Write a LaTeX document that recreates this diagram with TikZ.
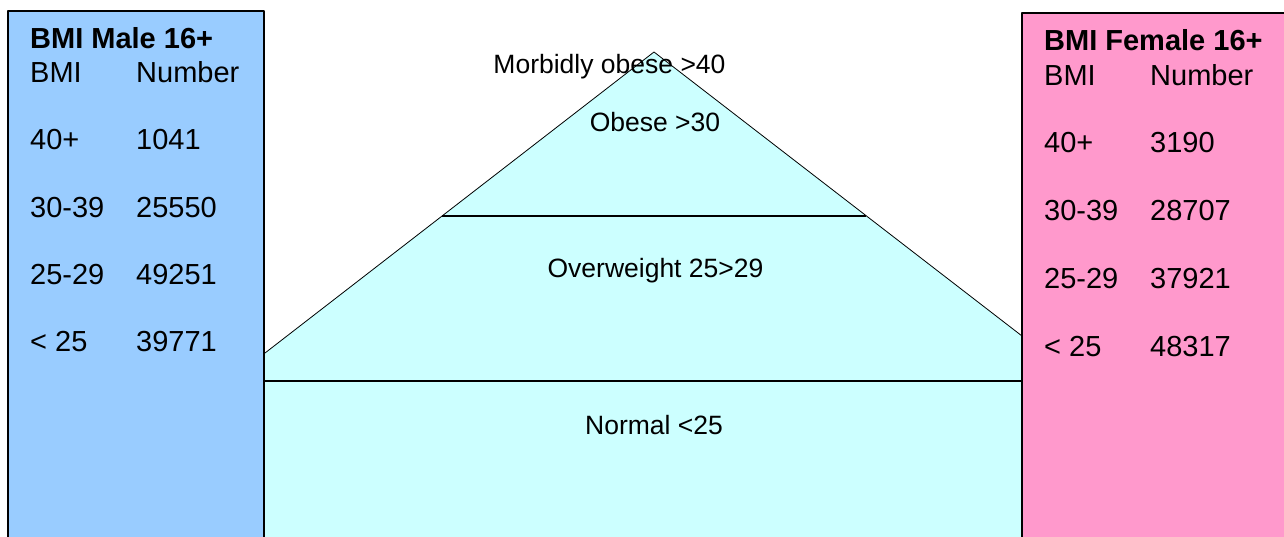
\documentclass[tikz,border=0pt]{standalone}
\usepackage{fontspec}
\setmainfont{Liberation Sans}
\usetikzlibrary{positioning}
\definecolor{maleblue}{HTML}{99CCFF}
\definecolor{femalepink}{HTML}{FF99CC}
\definecolor{pyrcyan}{HTML}{CCFFFF}

\begin{document}
\begin{tikzpicture}[x=1pt,y=-1pt,line join=round,
  boxtext/.style={anchor=base west,inner sep=0pt,font=\fontsize{29}{34}\selectfont},
  boxtitle/.style={boxtext,font=\fontsize{29}{34}\selectfont\bfseries},
  pyrtext/.style={anchor=base,inner sep=0pt,font=\fontsize{26.5}{32}\selectfont}]
  \useasboundingbox (0,0) rectangle (1284,537);
  \clip (0,0) rectangle (1284,537);
  % pyramid: apex, sides meeting the two boxes, band edges
  \coordinate (apex) at (654,52);
  \coordinate (L) at (265,353);
  \coordinate (R) at (1022,336);
  \coordinate (LB) at (265,560);
  \coordinate (RB) at (1022,560);
  \coordinate (obL) at (442,216);
  \coordinate (obR) at (866,216);
  \coordinate (nmL) at (265,381);
  \coordinate (nmR) at (1022,381);
  \fill[pyrcyan] (L)--(apex)--(R)--(RB)--(LB)--cycle;
  \draw[line width=0.8pt] (L)--(apex)--(R);
  \draw[line width=1.2pt] (obL)--(obR);
  \draw[line width=1.2pt] (nmL)--(nmR);
  % the two tables
  \filldraw[fill=maleblue,line width=1.5pt] (8,560)--(8,11)--(264,11)--(264,560);
  \filldraw[fill=femalepink,line width=1.5pt] (1022,560)--(1022,13)--(1300,13)--(1300,560);
  \node[boxtitle] (mtitle) at (30,49) {BMI Male 16+};
  \node[boxtext] (mhead) at (30,83) {BMI};
  \node[boxtext] (mnum) at (136,83) {Number};
  \foreach \bmi/\cnt [count=\i] in {40+/1041,30-39/25550,25-29/49251,< 25/39771}{
    \node[boxtext] (mb\i) at (30,{150+67.3*(\i-1)}) {\bmi};
    \node[boxtext] (mn\i) at (136,{150+67.3*(\i-1)}) {\cnt};
  }
  \node[boxtitle] (ftitle) at (1044,51) {BMI Female 16+};
  \node[boxtext] (fhead) at (1044,86) {BMI};
  \node[boxtext] (fnum) at (1150,86) {Number};
  \foreach \bmi/\cnt [count=\i] in {40+/3190,30-39/28707,25-29/37921,< 25/48317}{
    \node[boxtext] (fb\i) at (1044,{153+67.7*(\i-1)}) {\bmi};
    \node[boxtext] (fn\i) at (1150,{153+67.7*(\i-1)}) {\cnt};
  }
  % band labels
  \node[pyrtext] (morbid) at (609.5,74) {Morbidly obese >40};
  \node[pyrtext] (obese) at (655,132) {Obese >30};
  \node[pyrtext] (over) at (655.5,277) {Overweight 25>29};
  \node[pyrtext] (normal) at (654,434) {Normal <25};
\end{tikzpicture}
\end{document}
